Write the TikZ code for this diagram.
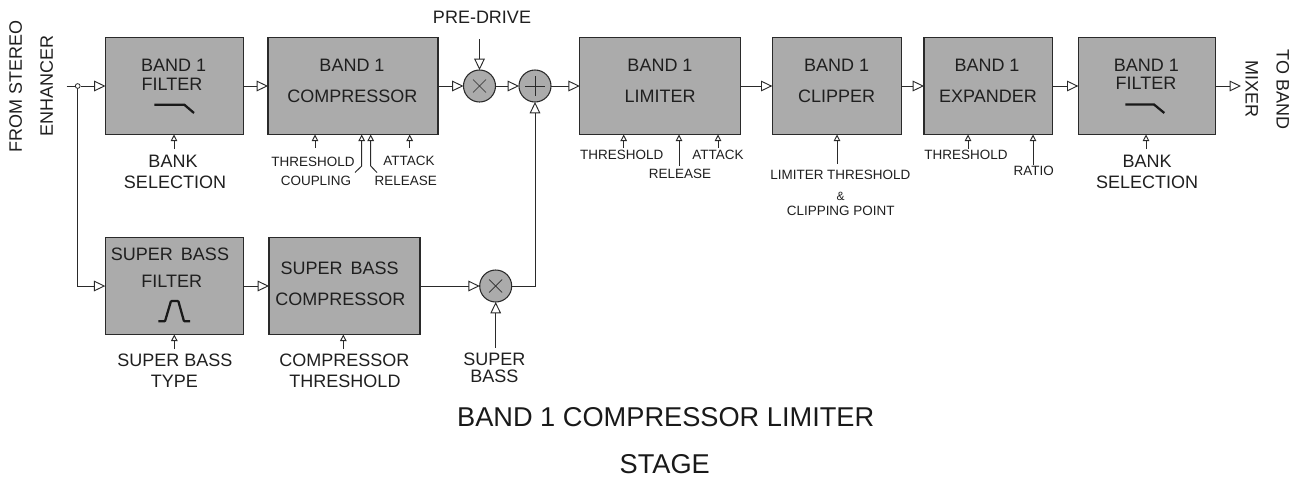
\documentclass[tikz,border=0pt]{standalone}
\usepackage{fontspec}
\setmainfont{Liberation Sans}
\usepackage{xcolor}
\usetikzlibrary{arrows.meta}
\definecolor{blockgray}{HTML}{ABABAB}
\definecolor{wirecol}{HTML}{2A2A2A}

\begin{document}
\begin{tikzpicture}[x=0.75pt,y=-0.75pt,
  wire/.style={draw=wirecol,line width=0.7pt},
  bigarrow/.style={wire,-{Triangle[open,fill=white,length=8.5pt,width=8pt]}},
  smallarrow/.style={wire,-{Triangle[open,fill=white,length=5pt,width=5pt]}},
  blockbox/.style={draw=wirecol,line width=0.9pt,fill=blockgray,inner sep=0pt,outer sep=0pt,minimum height=72.75pt},
  mixcircle/.style={circle,draw=wirecol,line width=0.8pt,fill=blockgray,inner sep=0pt,outer sep=0pt,minimum size=24pt},
  bigtext/.style={inner sep=0pt,text=black!88,font=\fontsize{13.5}{15}\selectfont},
  smalltext/.style={inner sep=0pt,text=black!88,font=\fontsize{10.1}{12}\selectfont},
  titletext/.style={inner sep=0pt,text=black!90,font=\fontsize{20.4}{24}\selectfont},
  response/.style={draw=black!90,line width=1.7pt}]
\useasboundingbox (0,0) rectangle (1305,479);

% upper row
\node[blockbox,minimum width=103.5pt] (bandFilter) at (174.5,86) {};
\node[blockbox,minimum width=127.5pt] (bandComp) at (353,86) {};
\node[mixcircle] (preMix) at (479.5,86) {};
\node[mixcircle] (sumMix) at (535,86) {};
\node[blockbox,minimum width=120.75pt] (bandLimiter) at (660.3,86) {};
\node[blockbox,minimum width=97pt] (bandClipper) at (837,86) {};
\node[blockbox,minimum width=96.25pt] (bandExpander) at (988.2,86) {};
\node[blockbox,minimum width=103pt] (bandFilterOut) at (1147,86) {};

% lower row
\node[blockbox,minimum width=103.5pt] (bassFilter) at (174.3,286) {};
\node[blockbox,minimum width=113.25pt] (bassComp) at (344.5,286) {};
\node[mixcircle] (bassMix) at (495.7,286) {};

% text in the blocks
\node[bigtext] (filterA) at (173.7,65) {BAND 1};
\node[bigtext] (filterB) at (172,84) {FILTER};
\node[bigtext] (compA) at (352,65) {BAND 1};
\node[bigtext] (compB) at (352.3,96) {COMPRESSOR};
\node[bigtext] (limiterA) at (660,65) {BAND 1};
\node[bigtext] (limiterB) at (660,96) {LIMITER};
\node[bigtext] (clipperA) at (836.7,65) {BAND 1};
\node[bigtext] (clipperB) at (836.7,96) {CLIPPER};
\node[bigtext] (expanderA) at (987,65) {BAND 1};
\node[bigtext] (expanderB) at (988,96) {EXPANDER};
\node[bigtext] (filterOutA) at (1146.3,65) {BAND 1};
\node[bigtext] (filterOutB) at (1146,83) {FILTER};
\node[bigtext] (bassFilterA) at (170,254) {SUPER\hspace{6pt}BASS};
\node[bigtext] (bassFilterB) at (171.7,281) {FILTER};
\node[bigtext] (bassCompA) at (339.7,268.5) {SUPER\hspace{6pt}BASS};
\node[bigtext] (bassCompB) at (340.3,299) {COMPRESSOR};

% response curves
\draw[response] (154.3,104.7) -- (184.3,104.7) -- (194,113);
\draw[response] (1125.3,104.5) -- (1154,104.5) -- (1164.3,113);
\draw[response,rounded corners=0.6pt] (158.3,321.3) -- (165,321.3) -- (171,301) -- (178.3,301) -- (184,321.3) -- (190,321.3);

% signs in the circles
\draw[wire,line width=0.5pt] (preMix.center) +(-6.5,-6.5) -- +(6.5,6.5);
\draw[wire,line width=0.5pt] (preMix.center) +(-6.5,6.5) -- +(6.5,-6.5);
\draw[wire,line width=0.5pt] (sumMix.center) +(-10,0) -- +(10,0);
\draw[wire,line width=0.5pt] (sumMix.center) +(0,-10) -- +(0,10);
\draw[wire,line width=0.5pt] (bassMix.center) +(-6.5,-6.5) -- +(6.5,6.5);
\draw[wire,line width=0.5pt] (bassMix.center) +(-6.5,6.5) -- +(6.5,-6.5);

% signal path
\coordinate (inStart) at (66.7,86);
\node[circle,draw=wirecol,line width=0.6pt,fill=white,inner sep=0pt,minimum size=3.6pt] (split) at (77.7,86) {};
\coordinate (outEnd) at (1241,86);
\draw[wire] (inStart) -- (split);
\draw[bigarrow] (split) -- (bandFilter);
\draw[bigarrow] (split) |- (bassFilter);
\draw[bigarrow] (bandFilter) -- (bandComp);
\draw[bigarrow] (bandComp) -- (preMix);
\draw[bigarrow] (preMix) -- (sumMix);
\draw[bigarrow] (sumMix) -- (bandLimiter);
\draw[bigarrow] (bandLimiter) -- (bandClipper);
\draw[bigarrow] (bandClipper) -- (bandExpander);
\draw[bigarrow] (bandExpander) -- (bandFilterOut);
\draw[bigarrow] (bandFilterOut) -- (outEnd);
\draw[bigarrow] (bassFilter) -- (bassComp);
\draw[bigarrow] (bassComp) -- (bassMix);
\draw[bigarrow] (bassMix) -| (sumMix);

% side texts
\node[bigtext,rotate=90] (fromA) at (15.7,86) {FROM STEREO};
\node[bigtext,rotate=90] (fromB) at (46.7,86) {ENHANCER};
\node[bigtext,rotate=-90] (toA) at (1282.7,89.7) {TO BAND};
\node[bigtext,rotate=-90] (toB) at (1251.7,89) {MIXER};

% pre-drive and super bass inputs
\node[bigtext] (preDrive) at (482,17) {PRE-DRIVE};
\coordinate (preIn) at (479.5,39);
\draw[bigarrow] (preIn) -- (preMix);
\node[bigtext] (bassLabelA) at (494.3,359) {SUPER};
\node[bigtext] (bassLabelB) at (494.3,376.7) {BASS};
\coordinate (bassIn) at (495.7,347.7);
\draw[bigarrow] (bassIn) -- (bassMix);

% filter input
\node[bigtext] (bankA) at (173,161) {BANK};
\node[bigtext] (bankB) at (175,182) {SELECTION};
\coordinate (bankIn) at (174,149);
\draw[smallarrow] (bankIn) -- (bankIn |- bandFilter.south);

% compressor inputs
\node[smalltext] (compThresh) at (313,162) {THRESHOLD};
\node[smalltext] (compCoupling) at (316,181) {COUPLING};
\node[smalltext] (compAttack) at (409,161) {ATTACK};
\node[smalltext] (compRelease) at (405.7,181) {RELEASE};
\coordinate (compThreshIn) at (315,148);
\coordinate (compAttackIn) at (409.7,148);
\coordinate (couplingIn) at (355,172.5);
\coordinate (couplingBend) at (361.7,166);
\coordinate (releaseIn) at (377,172.5);
\coordinate (releaseBend) at (370.7,166);
\draw[smallarrow] (compThreshIn) -- (compThreshIn |- bandComp.south);
\draw[smallarrow] (compAttackIn) -- (compAttackIn |- bandComp.south);
\draw[smallarrow] (couplingIn) -- (couplingBend) -- (couplingBend |- bandComp.south);
\draw[smallarrow] (releaseIn) -- (releaseBend) -- (releaseBend |- bandComp.south);

% limiter inputs
\node[smalltext] (limThresh) at (621.7,155) {THRESHOLD};
\node[smalltext] (limRelease) at (680,174) {RELEASE};
\node[smalltext] (limAttack) at (718,155) {ATTACK};
\coordinate (limThreshIn) at (623.7,148);
\coordinate (limReleaseIn) at (679,166);
\coordinate (limAttackIn) at (718,148);
\draw[smallarrow] (limThreshIn) -- (limThreshIn |- bandLimiter.south);
\draw[smallarrow] (limReleaseIn) -- (limReleaseIn |- bandLimiter.south);
\draw[smallarrow] (limAttackIn) -- (limAttackIn |- bandLimiter.south);

% clipper input
\node[smalltext] (clipA) at (840.3,175) {LIMITER THRESHOLD};
\node[smalltext,font=\fontsize{9}{11}\selectfont] (clipB) at (840.7,196.7) {\&};
\node[smalltext] (clipC) at (840.7,211.3) {CLIPPING POINT};
\coordinate (clipIn) at (837,164);
\draw[smallarrow] (clipIn) -- (clipIn |- bandClipper.south);

% expander inputs
\node[smalltext] (expThresh) at (966,155) {THRESHOLD};
\node[smalltext] (expRatio) at (1033.7,171) {RATIO};
\coordinate (expThreshIn) at (968,149);
\coordinate (expRatioIn) at (1033,165);
\draw[smallarrow] (expThreshIn) -- (expThreshIn |- bandExpander.south);
\draw[smallarrow] (expRatioIn) -- (expRatioIn |- bandExpander.south);

% output filter input
\node[bigtext] (bankOutA) at (1147,161) {BANK};
\node[bigtext] (bankOutB) at (1147,182) {SELECTION};
\coordinate (bankOutIn) at (1146,149);
\draw[smallarrow] (bankOutIn) -- (bankOutIn |- bandFilterOut.south);

% lower row inputs
\node[bigtext] (typeA) at (175,360.7) {SUPER BASS};
\node[bigtext] (typeB) at (174.3,381.7) {TYPE};
\coordinate (typeIn) at (174.3,349);
\draw[smallarrow] (typeIn) -- (typeIn |- bassFilter.south);
\node[bigtext] (bassThreshA) at (344.3,360.7) {COMPRESSOR};
\node[bigtext] (bassThreshB) at (345,381.7) {THRESHOLD};
\coordinate (bassThreshIn) at (343.3,349);
\draw[smallarrow] (bassThreshIn) -- (bassThreshIn |- bassComp.south);

% caption
\node[titletext] (captionA) at (665.7,417) {BAND 1 COMPRESSOR LIMITER};
\node[titletext] (captionB) at (664.7,464) {STAGE};
\end{tikzpicture}
\end{document}
